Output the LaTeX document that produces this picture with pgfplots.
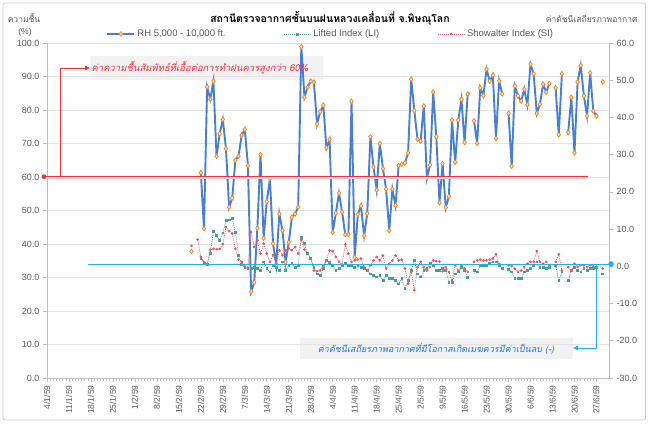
\documentclass[border=0pt]{standalone}
\usepackage{fontspec}
\setmainfont{Liberation Sans}
\newfontfamily\thaifont[Script=Thai]{Loma}
\newfontfamily\thaiit[Script=Thai,FakeSlant=0.2]{Loma}
\usepackage{pgfplots}
\pgfplotsset{compat=1.18}
\usepackage{pgfplotstable}
\usetikzlibrary{arrows.meta}
\definecolor{rhblue}{HTML}{4A7FD0}
\definecolor{rhorange}{HTML}{F08A2C}
\definecolor{rhfill}{HTML}{FDE3C8}
\definecolor{liteal}{HTML}{4C9E90}
\definecolor{sired}{HTML}{E45B68}
\definecolor{gridc}{HTML}{E4E4E4}
\definecolor{axc}{HTML}{BFBFBF}
\definecolor{txt}{HTML}{595959}
\definecolor{cyanl}{HTML}{1FB3EE}
\definecolor{annred}{HTML}{F0323C}
\definecolor{boxg}{HTML}{F2F2F2}
\definecolor{annblue}{HTML}{2E75C8}

\pgfplotstableread{
d rh li si
46 37.8 nan 5.5
47 nan nan nan
48 nan nan 7.2
49 61.3 2.1 2.5
50 44.6 0.9 1.2
51 86.9 0.5 0.6
52 83.2 3.5 4.5
53 88.6 9.5 4.7
54 66.2 8.3 4.6
55 72.9 7.0 4.7
56 77.2 9.0 6.0
57 68.5 12.3 10.5
58 51.0 12.5 9.5
59 53.7 12.8 8.8
60 65.0 9.2 4.7
61 66.2 3.0 1.8
62 72.5 0.5 1.2
63 74.2 -0.2 0.0
64 63.4 -0.6 -0.3
65 25.8 -0.5 9.2
66 28.5 -0.3 5.2
67 44.7 -0.6 7.0
68 66.7 -1.1 3.4
69 41.7 1.2 6.1
70 52.7 -0.6 3.4
71 59.5 -1.5 1.2
72 40.1 0.3 3.0
73 33.8 -0.2 0.7
74 49.0 -1.1 4.3
75 44.0 1.2 3.0
76 34.6 -1.1 4.3
77 40.5 0.3 4.8
78 48.0 0.7 4.3
79 49.0 -0.2 5.2
80 51.0 0.3 3.4
81 98.9 7.7 7.1
82 83.8 6.1 4.5
83 86.8 3.4 3.5
84 88.6 2.1 2.1
85 88.3 -0.2 -1.1
86 75.8 -2.0 -1.3
87 79.5 -2.4 -1.1
88 81.4 -0.6 0.3
89 68.7 1.6 1.6
90 71.2 1.0 4.3
91 43.5 0.3 4.1
92 49.2 -1.1 2.5
93 55.2 -0.6 1.2
94 49.5 0.3 0.5
95 42.8 0.7 5.9
96 42.8 0.3 3.4
97 82.6 0.3 1.2
98 36.0 -0.2 1.6
99 48.8 0.3 1.8
100 51.4 -0.2 2.1
101 42.5 -0.6 -0.2
102 49.1 -1.1 -1.1
103 72.0 -2.0 0.3
104 63.0 -2.4 1.6
105 56.1 -2.8 2.5
106 70.0 -2.4 1.6
107 62.5 -3.8 2.9
108 56.4 -2.4 -0.6
109 44.0 -3.3 0.7
110 56.4 -3.3 1.6
111 51.5 -3.8 2.9
112 63.4 -4.7 1.6
113 63.8 -3.3 1.8
114 64.2 -6.0 -0.6
115 67.2 -3.8 -4.6
116 89.2 -1.1 -1.5
117 79.8 1.6 -6.4
118 71.3 -2.0 -0.2
119 70.7 -2.8 1.2
120 81.2 -1.1 -0.2
121 59.7 -0.6 -1.1
122 63.6 0.7 -0.2
123 85.4 0.3 1.6
124 72.0 -1.1 1.4
125 52.3 -1.1 1.3
126 64.0 -0.6 -1.3
127 50.9 -1.1 -0.2
128 54.2 -4.2 -1.5
129 77.0 -4.2 -3.7
130 64.4 -2.0 0.3
131 77.0 -1.5 -1.1
132 83.2 -0.2 0.3
133 70.3 -1.0 -0.6
134 84.8 -2.9 -1.5
135 nan nan nan
136 76.8 -1.1 1.2
137 70.0 -1.5 1.6
138 86.6 0.3 1.8
139 84.3 0.3 1.6
140 92.2 0.3 1.6
141 88.6 0.7 1.8
142 90.4 1.2 2.1
143 71.5 1.2 3.2
144 88.7 0.3 0.7
145 84.8 -0.6 -0.6
146 nan nan nan
147 79.0 -0.8 0.3
148 63.2 -1.5 0.1
149 87.2 -3.3 -0.6
150 84.2 -3.3 -1.5
151 82.6 -3.3 -1.1
152 86.2 -1.5 -0.2
153 81.6 -1.1 0.7
154 93.7 -0.6 1.2
155 90.8 0.3 1.2
156 79.0 1.2 4.1
157 81.7 -0.2 1.2
158 87.7 -0.2 0.7
159 85.3 -0.6 1.2
160 87.9 -0.2 0.3
161 nan nan nan
162 86.6 0.3 1.2
163 72.6 -3.8 3.2
164 90.8 -1.5 -1.1
165 nan nan nan
166 73.3 -3.8 -0.2
167 83.8 -1.1 -1.1
168 67.2 -0.2 0.7
169 88.4 -1.1 -0.2
170 93.3 -1.5 0.3
171 84.2 -0.6 0.3
172 78.2 -1.1 -0.2
173 91.1 -0.6 0.3
174 79.7 -0.6 0.0
175 78.2 -0.2 -0.2
176 nan nan nan
177 88.4 -2.0 -0.6
}\data

\begin{document}
\begin{tikzpicture}
\path[use as bounding box] (0,0) rectangle (650pt,426pt);
\draw[axc!80, rounded corners=2pt, line width=0.8pt] (3pt,6pt) rectangle (645.5pt,423pt);

% annotation boxes (behind)
\fill[boxg] (90pt,370pt) rectangle (323pt,346pt);
\fill[boxg] (300pt,88pt) rectangle (573pt,67pt);

\pgfplotsset{
  rhstyle/.style={rhblue, line width=1.9pt, mark=diamond*, mark size=2.3pt,
     mark options={draw=rhorange, fill=rhfill, line width=0.8pt, solid}},
  common/.style={
    scale only axis, width=562pt, height=335pt,
    at={(47pt,48pt)}, anchor=south west,
    xmin=0, xmax=179, unbounded coords=jump,
    /pgf/number format/assume math mode=true,
    /pgf/number format/.cd, fixed, fixed zerofill, precision=1, /pgfplots/.cd,
    tick label style={font=\fontsize{9}{10}\selectfont, text=txt},
    axis line style={axc, line width=0.8pt},
    tick style={axc, line width=0.6pt},
    tick align=outside,
    major tick length=4pt, minor tick length=2.5pt,
    clip=false,
  },
  legend image code/.code={\draw[mark repeat=2,mark phase=2,#1] plot coordinates {(0pt,0pt) (13.5pt,0pt) (27pt,0pt)};},
}

\begin{axis}[common,
  ymin=0, ymax=100, ytick={0,10,...,100},
  axis x line*=bottom, axis y line*=left,
  ymajorgrids, grid style={gridc, line width=0.7pt},
  xtick={0,7,...,175},
  xticklabels={4/1/59,11/1/59,18/1/59,25/1/59,1/2/59,8/2/59,15/2/59,22/2/59,29/2/59,7/3/59,14/3/59,21/3/59,28/3/59,4/4/59,11/4/59,18/4/59,25/4/59,2/5/59,9/5/59,16/5/59,23/5/59,30/5/59,6/6/59,13/6/59,20/6/59,27/6/59},
  xticklabel style={rotate=90, anchor=east, font=\fontsize{8.5}{10}\selectfont},
  minor x tick num=6,
]
\addplot[rhstyle] table[x=d,y=rh]{\data};
\end{axis}

\begin{axis}[common,
  ymin=-30, ymax=60, ytick={-30,-20,...,60},
  axis y line*=right, axis x line=none,
  legend style={at={(axis description cs:0.505,1.027)}, anchor=center,
    draw=none, fill=none, legend columns=3,
    font=\fontsize{9.5}{11}\selectfont, text=txt,
    /tikz/every even column/.append style={column sep=56pt},
    /tikz/every odd column/.append style={column sep=0pt}},
]
\addlegendimage{rhstyle}
\addlegendentry{RH 5,000 - 10,000 ft.}
\addplot[liteal, line width=0.7pt, dash pattern=on 1pt off 1pt, mark=square*, mark size=0.9pt, mark options={solid}] table[x=d,y=li]{\data};
\addlegendentry{Lifted Index (LI)}
\addplot[sired, line width=0.7pt, dash pattern=on 1pt off 1pt, mark=*, mark size=1pt, mark options={solid}] table[x=d,y=si]{\data};
\addlegendentry{Showalter Index (SI)}
\end{axis}

% red annotation
\draw[gray!30, line width=1.6pt] (46pt,248pt) -- (588pt,248pt);
\draw[annred, line width=0.8pt] (44pt,249.3pt) -- (588pt,249.3pt);
\fill[annred] (44pt,249.3pt) circle (2.4pt);
\draw[annred, line width=0.8pt, -{Triangle[length=5pt,width=4.5pt]}] (60.7pt,249.3pt) -- (60.7pt,358pt) -- (90pt,358pt);
\node[text=annred, font=\thaiit\fontsize{9.5}{11}\selectfont] at (200pt,358pt) {ค่าความชื้นสัมพัทธ์ที่เอื้อต่อการทำฝนควรสูงกว่า 60\%};

% cyan annotation
\draw[cyanl, line width=0.9pt] (88pt,162pt) -- (611pt,162pt);
\fill[cyanl] (611pt,162pt) circle (2.8pt);
\draw[cyanl, line width=0.9pt, -{Triangle[length=5pt,width=4.5pt]}] (596pt,162pt) -- (596pt,78pt) -- (573pt,78pt);
\node[text=annblue, font=\thaiit\fontsize{9}{11}\selectfont] at (436pt,77.5pt) {ค่าดัชนีเสถียรภาพอากาศที่มีโอกาสเกิดเมฆควรมีค่าเป็นลบ (-)};

% titles
\node[font=\thaifont\bfseries\fontsize{10.5}{12}\selectfont] at (330pt,408pt) {สถานีตรวจอากาศชั้นบนฝนหลวงเคลื่อนที่ จ.พิษณุโลก};
\node[text=txt, font=\thaifont\fontsize{8.5}{10}\selectfont] at (24pt,408pt) {ความชื้น};
\node[text=txt, font=\fontsize{8.5}{10}\selectfont] at (25pt,394pt) {(\%)};
\node[text=txt, font=\thaifont\fontsize{8.5}{10}\selectfont, anchor=east] at (641pt,407pt) {ค่าดัชนีเสถียรภาพอากาศ};
\end{tikzpicture}
\end{document}
